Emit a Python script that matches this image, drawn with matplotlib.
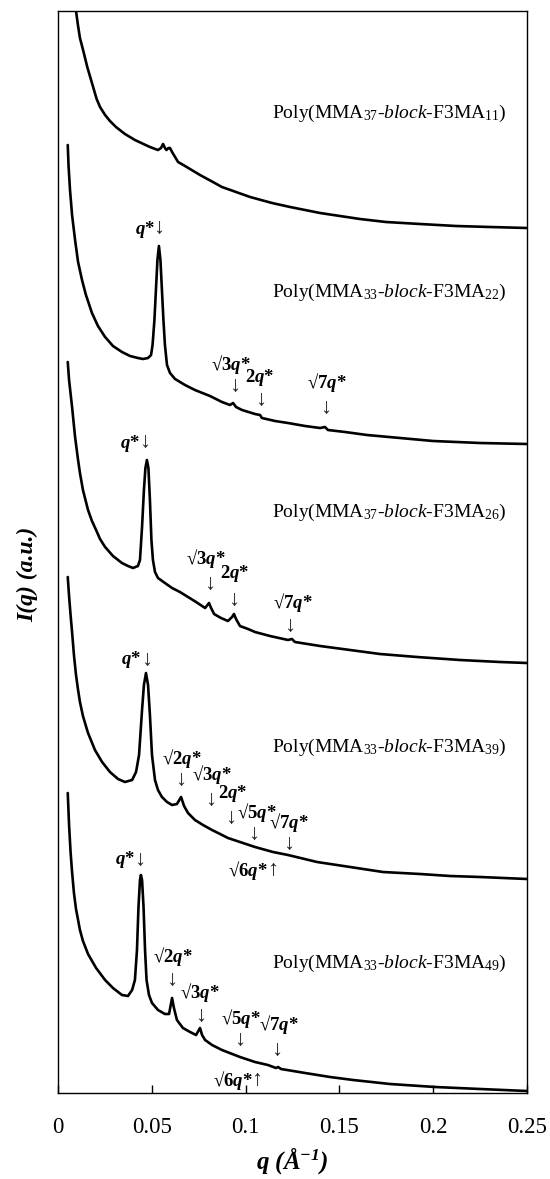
import matplotlib
matplotlib.use("Agg")
import matplotlib.pyplot as plt

plt.rcParams['font.family'] = ['Liberation Serif', 'DejaVu Serif']
plt.rcParams['mathtext.fontset'] = 'custom'
plt.rcParams['mathtext.rm'] = 'Liberation Serif'
plt.rcParams['mathtext.it'] = 'Liberation Serif:italic'
plt.rcParams['mathtext.bf'] = 'Liberation Serif:bold'
plt.rcParams['mathtext.bfit'] = 'Liberation Serif:italic:bold'

# ---------------- data (q in 1/Angstrom, intensity in arbitrary offset units) -------------
q1 = [0.0075, 0.0096, 0.0107, 0.0117, 0.0135, 0.0156, 0.0181, 0.0206, 0.0224, 0.0251,
      0.0277, 0.0309, 0.0357, 0.0410, 0.0490, 0.0533, 0.0549, 0.0560, 0.0570, 0.0578,
      0.0589, 0.0597, 0.0608, 0.0624, 0.0640, 0.0677, 0.0757, 0.0816, 0.0874, 0.0949,
      0.1024, 0.1141, 0.1237, 0.1317, 0.1397, 0.1503, 0.1610, 0.1748, 0.1930, 0.2122,
      0.2303, 0.2500]
I1 = [1103, 1082, 1067, 1055, 1042, 1026, 1010, 994, 986, 978,
      972, 966, 959, 953, 946, 943, 945, 949, 945, 943,
      945, 945, 941, 936, 931, 927, 918, 912, 906, 901,
      896, 890, 886, 883, 880, 877, 874, 871, 869, 867,
      866, 865]

q2 = [0.0052, 0.0056, 0.0064, 0.0075, 0.0091, 0.0107, 0.0128, 0.0149, 0.0181, 0.0213,
      0.0251, 0.0293, 0.0341, 0.0384, 0.0426, 0.0453, 0.0480, 0.0496, 0.0504, 0.0514,
      0.0522, 0.0530, 0.0538, 0.0546, 0.0554, 0.0562, 0.0570, 0.0581, 0.0597, 0.0624,
      0.0677, 0.0730, 0.0810, 0.0874, 0.0917, 0.0933, 0.0949, 0.0981, 0.1050, 0.1077,
      0.1087, 0.1157, 0.1226, 0.1317, 0.1397, 0.1423, 0.1439, 0.1530, 0.1647, 0.1823,
      0.1999, 0.2250, 0.2500]
I2 = [948, 928, 903, 878, 853, 831, 813, 798, 780, 767,
      756, 747, 741, 737, 735, 734, 735, 738, 748, 773,
      803, 833, 847, 833, 803, 773, 748, 728, 720, 714,
      708, 703, 697, 691, 688, 690, 686, 683, 679, 678,
      675, 672, 670, 667, 665, 666, 663, 661, 658, 655,
      652, 650, 649]

q3 = [0.0052, 0.0059, 0.0075, 0.0091, 0.0107, 0.0117, 0.0133, 0.0160, 0.0181, 0.0203,
      0.0224, 0.0251, 0.0293, 0.0341, 0.0373, 0.0400, 0.0426, 0.0437, 0.0448, 0.0458,
      0.0466, 0.0474, 0.0482, 0.0490, 0.0498, 0.0506, 0.0517, 0.0533, 0.0570, 0.0608,
      0.0650, 0.0693, 0.0736, 0.0784, 0.0805, 0.0816, 0.0832, 0.0869, 0.0906, 0.0928,
      0.0938, 0.0949, 0.0970, 0.1013, 0.1050, 0.1130, 0.1226, 0.1247, 0.1263, 0.1397,
      0.1557, 0.1716, 0.1914, 0.2143, 0.2356, 0.2500]
I3 = [731, 713, 686, 656, 633, 620, 603, 583, 572, 563,
      554, 546, 537, 530, 527, 525, 527, 533, 566, 603,
      625, 633, 625, 593, 553, 533, 521, 515, 510, 505,
      501, 496, 491, 485, 490, 485, 479, 475, 472, 476,
      479, 474, 467, 464, 461, 457, 453, 454, 451, 447,
      443, 439, 436, 433, 431, 430]

q4 = [0.0052, 0.0059, 0.0067, 0.0075, 0.0085, 0.0096, 0.0107, 0.0117, 0.0133, 0.0160,
      0.0197, 0.0235, 0.0277, 0.0320, 0.0357, 0.0395, 0.0416, 0.0432, 0.0448, 0.0458,
      0.0469, 0.0480, 0.0490, 0.0501, 0.0517, 0.0533, 0.0554, 0.0581, 0.0608, 0.0634,
      0.0656, 0.0672, 0.0693, 0.0730, 0.0773, 0.0821, 0.0864, 0.0906, 0.0970, 0.1050,
      0.1146, 0.1226, 0.1381, 0.1557, 0.1732, 0.1930, 0.2090, 0.2250, 0.2500]
I4 = [516, 497, 478, 461, 438, 418, 403, 391, 377, 360,
      343, 331, 321, 314, 311, 313, 321, 338, 383, 408,
      420, 408, 378, 338, 313, 303, 296, 291, 288, 289,
      296, 287, 280, 273, 268, 263, 259, 255, 251, 246,
      241, 238, 231, 226, 221, 219, 217, 216, 214]

q5 = [0.0052, 0.0059, 0.0067, 0.0075, 0.0085, 0.0096, 0.0107, 0.0117, 0.0133, 0.0160,
      0.0203, 0.0251, 0.0293, 0.0341, 0.0373, 0.0395, 0.0410, 0.0421, 0.0429, 0.0437,
      0.0442, 0.0448, 0.0456, 0.0464, 0.0472, 0.0485, 0.0501, 0.0533, 0.0570, 0.0592,
      0.0608, 0.0618, 0.0634, 0.0666, 0.0704, 0.0736, 0.0757, 0.0768, 0.0784, 0.0821,
      0.0874, 0.0970, 0.1050, 0.1119, 0.1162, 0.1173, 0.1189, 0.1317, 0.1450, 0.1573,
      0.1770, 0.2010, 0.2250, 0.2500]
I5 = [300, 268, 241, 221, 200, 184, 173, 163, 152, 139,
      125, 113, 105, 98, 97, 103, 113, 143, 186, 213,
      218, 213, 186, 143, 113, 98, 90, 83, 79, 79,
      95, 85, 73, 65, 61, 58, 65, 58, 53, 48,
      43, 36, 31, 28, 25, 26, 24, 20, 16, 13,
      9, 6, 4, 2]

curves = [(q1, I1), (q2, I2), (q3, I3), (q4, I4), (q5, I5)]

sample_names = [
    r"Poly(MMA$_{37}$-$\mathit{block}$-F3MA$_{11}$)",
    r"Poly(MMA$_{33}$-$\mathit{block}$-F3MA$_{22}$)",
    r"Poly(MMA$_{37}$-$\mathit{block}$-F3MA$_{26}$)",
    r"Poly(MMA$_{33}$-$\mathit{block}$-F3MA$_{39}$)",
    r"Poly(MMA$_{33}$-$\mathit{block}$-F3MA$_{49}$)",
]
name_I = [980, 801, 581, 346, 130]

# peak labels: (label, q_label, I_label, arrow, q_arrow, I_arrow)
peak_labels = [
    # curve 2
    ("q*", 0.0464, 863, "↓", 0.0538, 864),
    ("√3q*", 0.0922, 728, "↓", 0.0944, 706),
    ("2q*", 0.1077, 715, "↓", 0.1082, 692),
    ("√7q*", 0.1434, 710, "↓", 0.1429, 685),
    # curve 3
    ("q*", 0.0384, 650, "↓", 0.0464, 650),
    ("√3q*", 0.0789, 535, "↓", 0.0810, 508),
    ("2q*", 0.0944, 520, "↓", 0.0938, 493),
    ("√7q*", 0.1253, 490, "↓", 0.1237, 466),
    # curve 4
    ("q*", 0.0389, 433, "↓", 0.0474, 433),
    ("√2q*", 0.0661, 335, "↓", 0.0656, 312),
    ("√3q*", 0.0818, 318, "↓", 0.0813, 293),
    ("2q*", 0.0930, 299, "↓", 0.0921, 275),
    ("√5q*", 0.1058, 281, "↓", 0.1044, 258),
    ("√7q*", 0.1232, 271, "↓", 0.1228, 248),
    ("√6q*", 0.1013, 223, "↑", 0.1146, 223),
    # curve 5
    ("q*", 0.0357, 233, "↓", 0.0437, 233),
    ("√2q*", 0.0613, 136, "↓", 0.0608, 112),
    ("√3q*", 0.0757, 101, "↓", 0.0762, 77),
    ("√5q*", 0.0975, 75, "↓", 0.0970, 52),
    ("√7q*", 0.1175, 68, "↓", 0.1167, 42),
    ("√6q*", 0.0933, 12, "↑", 0.1061, 12),
]

x_ticks = [0, 0.05, 0.1, 0.15, 0.2, 0.25]
x_ticklabels = ["0", "0.05", "0.1", "0.15", "0.2", "0.25"]

# ---------------- figure -------------
fig = plt.figure(figsize=(5.5, 11.79), dpi=100)
ax = fig.add_axes([58 / 550, 1 - 1093 / 1179, 469 / 550, 1082 / 1179])

for q, I in curves:
    ax.plot(q, I, color='black', lw=1.9, solid_joinstyle='round', solid_capstyle='round')

ax.set_xlim(0, 0.25)
ax.set_ylim(0, 1082)
ax.set_xticks(x_ticks)
ax.set_xticklabels(x_ticklabels)
ax.set_yticks([])
ax.tick_params(axis='x', direction='in', length=6, width=1.0, labelsize=16.5, pad=17)
for s in ax.spines.values():
    s.set_linewidth(1.0)

for name, yv in zip(sample_names, name_I):
    ax.text(0.2393, yv, name, ha='right', va='center', fontsize=14)


def fmt(lbl):
    # q in bold italic, rest bold
    return lbl.replace("q", r"$\mathbfit{q}$")


for lbl, ql, Il, arr, qa, Ia in peak_labels:
    ax.text(ql, Il, fmt(lbl), ha='center', va='center', fontsize=13.5, fontweight='bold')
    ax.text(qa, Ia, arr, ha='center', va='center', fontsize=16, color='#222222')

ax.set_xlabel(r"q (Å$^{\mathbfit{-1}}$)", fontsize=18, fontweight='bold', fontstyle='italic')
ax.xaxis.set_label_coords(0.5, -0.048)
ax.set_ylabel("I(q) (a.u.)", fontsize=17, fontweight='bold', fontstyle='italic')
ax.yaxis.set_label_coords(-0.042, 0.479)

fig.savefig("out.png", dpi=100)
